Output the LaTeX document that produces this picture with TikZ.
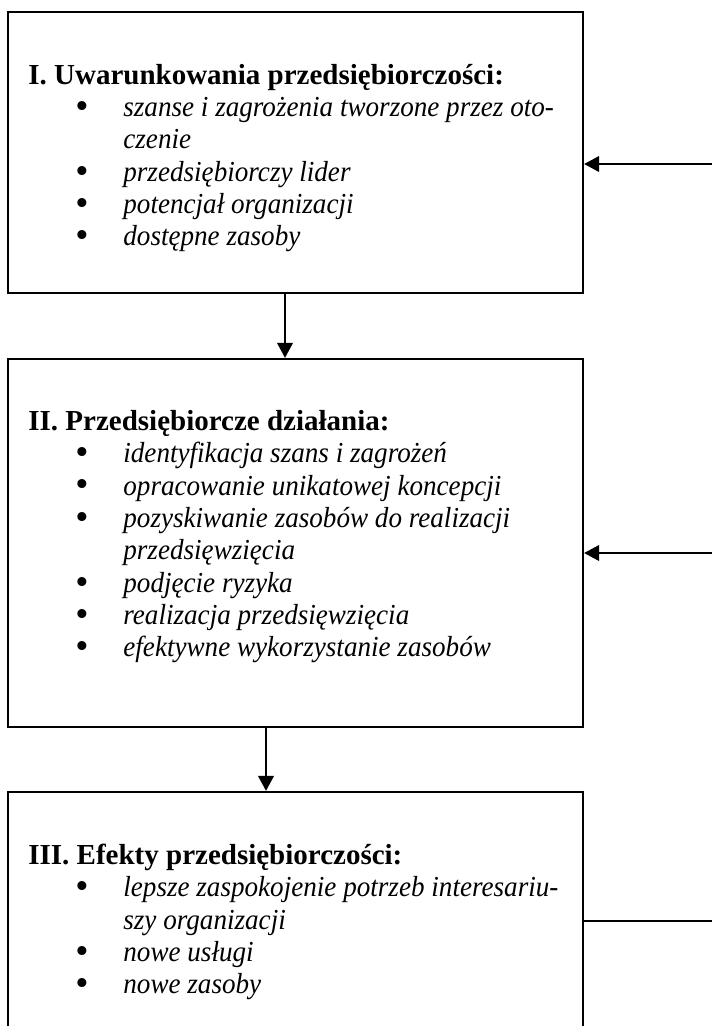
\documentclass[tikz,border=0pt]{standalone}
\usepackage{fontspec}
\setmainfont[ItalicFeatures={FakeStretch=0.935}]{Liberation Serif}
\usepackage{tikz}
\usetikzlibrary{arrows.meta, calc, positioning}

\newlength{\px}
\setlength{\px}{0.4138pt}
% punkt listy i ciag dalszy punktu
\newcommand{\pkt}[1]{\makebox[95\px][l]{\hspace*{47\px}\raisebox{-0.8pt}{\scalebox{1.3}{\textbullet}}}\textit{#1}}
\newcommand{\dalej}[1]{\hspace*{95\px}\textit{#1}}

\begin{document}
\begin{tikzpicture}[x=0.4138pt, y=-0.4138pt,
    ramka/.style={draw, line width=0.9pt, minimum width=575\px, inner sep=0pt},
    tresc/.style={anchor=base west, align=left, inner sep=0pt,
        font=\fontsize{12}{13.4}\selectfont},
    strzalka/.style={line width=0.9pt, -{Triangle[length=6.2pt, width=6.4pt]}}]
    \clip (0,0) rectangle (712,1026);

    % Ramki
    \node[ramka, minimum height=281\px] (box1) at (295.5,152.5) {};
    \node[ramka, minimum height=368\px] (box2) at (295.5,543) {};
    \node[ramka, minimum height=300\px] (box3) at (295.5,942) {};

    % Teksty w ramkach (kotwica na linii bazowej ostatniego wiersza)
    \node[tresc] (txt1) at ($(box1.north west)+(21,235)$) {%
        \textbf{I. Uwarunkowania przedsiębiorczości:}\\
        \pkt{szanse i zagrożenia tworzone przez oto-}\\
        \dalej{czenie}\\
        \pkt{przedsiębiorczy lider}\\
        \pkt{potencjał organizacji}\\
        \pkt{dostępne zasoby}};
    \node[tresc] (txt2) at ($(box2.north west)+(21,299)$) {%
        \textbf{II. Przedsiębiorcze działania:}\\
        \pkt{identyfikacja szans i zagrożeń}\\
        \pkt{opracowanie unikatowej koncepcji}\\
        \pkt{pozyskiwanie zasobów do realizacji}\\
        \dalej{przedsięwzięcia}\\
        \pkt{podjęcie ryzyka}\\
        \pkt{realizacja przedsięwzięcia}\\
        \pkt{efektywne wykorzystanie zasobów}};
    \node[tresc] (txt3) at ($(box3.north west)+(21,203)$) {%
        \textbf{III. Efekty przedsiębiorczości:}\\
        \pkt{lepsze zaspokojenie potrzeb interesariu-}\\
        \dalej{szy organizacji}\\
        \pkt{nowe usługi}\\
        \pkt{nowe zasoby}};

    % Strzalki pionowe
    \coordinate (zj1) at ($(box1.south)+(-10.5,0)$);
    \coordinate (zj2) at ($(box2.south)+(-29.5,0)$);
    \draw[strzalka] (zj1) -- (zj1 |- box2.north);
    \draw[strzalka] (zj2) -- (zj2 |- box3.north);

    % Sprzezenie zwrotne z prawej
    \coordinate (wej1) at (712,164);
    \coordinate (wej2) at (712,553);
    \coordinate (wyj3) at (712,921);
    \draw[strzalka] (wej1) -- (wej1 -| box1.east);
    \draw[strzalka] (wej2) -- (wej2 -| box2.east);
    \draw[line width=0.9pt] (wyj3 -| box3.east) -- (wyj3);
\end{tikzpicture}
\end{document}
